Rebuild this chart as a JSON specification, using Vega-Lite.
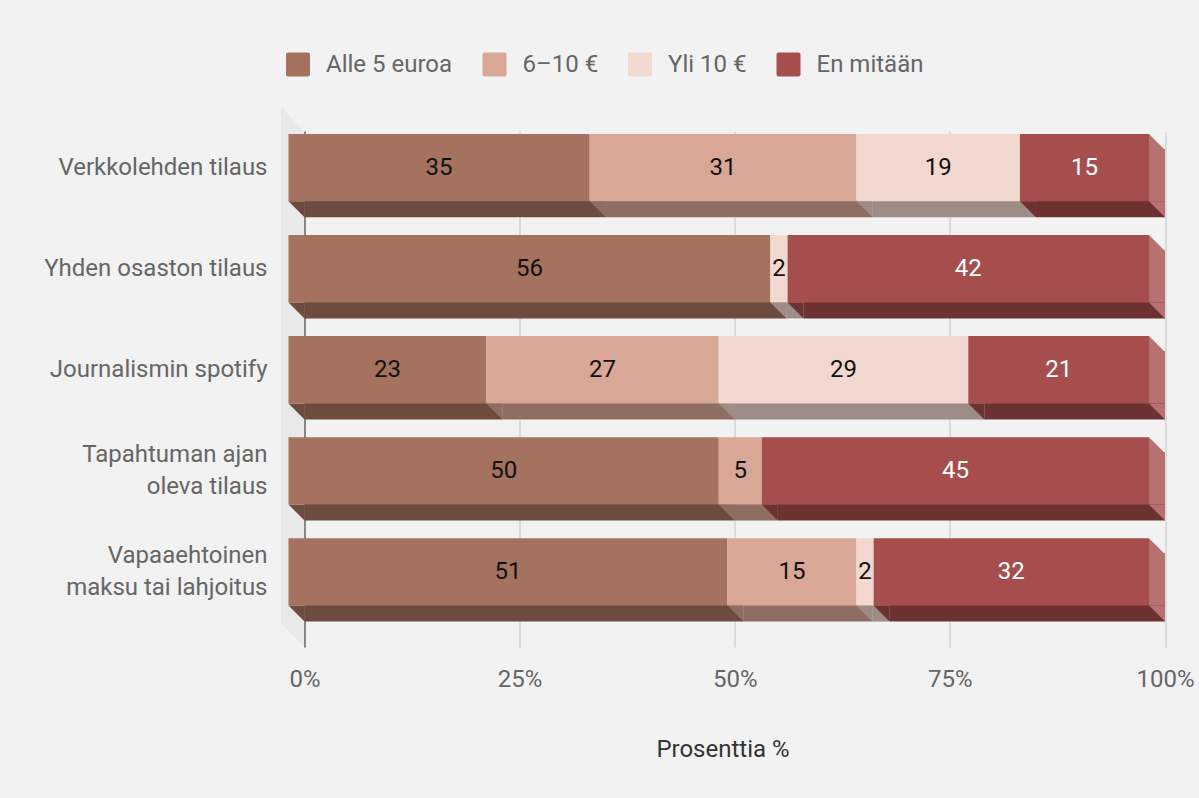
{
  "$schema": "https://vega.github.io/schema/vega-lite/v6.json",
  "background": "#f2f2f2",
  "autosize": {"type": "none"},
  "padding": {"left": 304.5, "top": 131, "right": 34, "bottom": 151},
  "width": 860.5,
  "height": 516,
  "config": {"view": {"stroke": null}, "font": "Roboto"},
  "data": {
    "values": [
      {"category": "Verkkolehden tilaus", "series": "Alle 5 euroa", "order": 1, "value": 35},
      {"category": "Verkkolehden tilaus", "series": "6–10 €", "order": 2, "value": 31},
      {"category": "Verkkolehden tilaus", "series": "Yli 10 €", "order": 3, "value": 19},
      {"category": "Verkkolehden tilaus", "series": "En mitään", "order": 4, "value": 15},
      {"category": "Yhden osaston tilaus", "series": "Alle 5 euroa", "order": 1, "value": 56},
      {"category": "Yhden osaston tilaus", "series": "Yli 10 €", "order": 3, "value": 2},
      {"category": "Yhden osaston tilaus", "series": "En mitään", "order": 4, "value": 42},
      {"category": "Journalismin spotify", "series": "Alle 5 euroa", "order": 1, "value": 23},
      {"category": "Journalismin spotify", "series": "6–10 €", "order": 2, "value": 27},
      {"category": "Journalismin spotify", "series": "Yli 10 €", "order": 3, "value": 29},
      {"category": "Journalismin spotify", "series": "En mitään", "order": 4, "value": 21},
      {"category": "Tapahtuman ajan oleva tilaus", "series": "Alle 5 euroa", "order": 1, "value": 50},
      {"category": "Tapahtuman ajan oleva tilaus", "series": "6–10 €", "order": 2, "value": 5},
      {"category": "Tapahtuman ajan oleva tilaus", "series": "En mitään", "order": 4, "value": 45},
      {"category": "Vapaaehtoinen maksu tai lahjoitus", "series": "Alle 5 euroa", "order": 1, "value": 51},
      {"category": "Vapaaehtoinen maksu tai lahjoitus", "series": "6–10 €", "order": 2, "value": 15},
      {"category": "Vapaaehtoinen maksu tai lahjoitus", "series": "Yli 10 €", "order": 3, "value": 2},
      {"category": "Vapaaehtoinen maksu tai lahjoitus", "series": "En mitään", "order": 4, "value": 32}
    ]
  },
  "transform": [
    {"stack": "value", "groupby": ["category"], "sort": [{"field": "order"}], "as": ["start", "end"]}
  ],
  "layer": [
    {
      "description": "3D side wall of the plot frame",
      "transform": [{"aggregate": [{"op": "count", "as": "n"}]}],
      "mark": {"type": "point", "shape": "M-23.5,-282L-0.6,-258L-0.6,258L-23.5,234Z", "size": 4, "filled": true, "fill": "#e9e9e9", "opacity": 1, "strokeWidth": 0},
      "encoding": {
        "x": {"datum": 0, "type": "quantitative", "scale": {"domain": [0, 100], "nice": false, "zero": true},
          "axis": {"title": "Prosenttia %", "zindex": 0, "values": [0, 25, 50, 75, 100], "labelExpr": "datum.value + '%'", "labelFlush": false, "grid": true, "gridColor": "#c4c4c4", "gridWidth": 1, "domain": false, "ticks": false, "tickSize": 0, "labelPadding": 20.5, "labelFontSize": 24, "labelColor": "#666666", "labelFont": "Roboto", "titleFontSize": 24, "titleFontWeight": "normal", "titleColor": "#333333", "titleFont": "Roboto", "titleX": 418, "titleY": 90.5, "titleBaseline": "top", "titleAlign": "center"}}
      }
    },
    {
      "description": "bottom faces of the 3D bars",
      "mark": {"type": "rule", "strokeWidth": 17, "strokeCap": "butt", "yOffset": 41.18},
      "encoding": {
        "y": {"field": "category", "type": "nominal", "scale": {"domain": ["Verkkolehden tilaus", "Yhden osaston tilaus", "Journalismin spotify", "Tapahtuman ajan oleva tilaus", "Vapaaehtoinen maksu tai lahjoitus"], "paddingInner": 0.3333, "paddingOuter": 0.22, "align": 0.0674},
          "axis": {"title": null, "zindex": 0, "grid": false, "ticks": false, "tickSize": 0, "domain": true, "domainColor": "#333333", "domainWidth": 1, "labelPadding": 37.5, "labelFontSize": 24, "labelColor": "#666666", "labelFont": "Roboto", "labelLimit": 400, "labelLineHeight": 32, "labelOffset": {"condition": {"test": "indexof(['Tapahtuman ajan oleva tilaus', 'Vapaaehtoinen maksu tai lahjoitus'], datum.value) >= 0", "value": -16}, "value": 0}, "labelExpr": "datum.label === 'Tapahtuman ajan oleva tilaus' ? ['Tapahtuman ajan', 'oleva tilaus'] : datum.label === 'Vapaaehtoinen maksu tai lahjoitus' ? ['Vapaaehtoinen', 'maksu tai lahjoitus'] : datum.label"}},
        "x": {"field": "start", "type": "quantitative", "scale": {"domain": [0, 100], "nice": false, "zero": true},
          "axis": {"title": "Prosenttia %", "zindex": 0, "values": [0, 25, 50, 75, 100], "labelExpr": "datum.value + '%'", "labelFlush": false, "grid": true, "gridColor": "#c4c4c4", "gridWidth": 1, "domain": false, "ticks": false, "tickSize": 0, "labelPadding": 20.5, "labelFontSize": 24, "labelColor": "#666666", "labelFont": "Roboto", "titleFontSize": 24, "titleFontWeight": "normal", "titleColor": "#333333", "titleFont": "Roboto", "titleX": 418, "titleY": 90.5, "titleBaseline": "top", "titleAlign": "center"}},
        "x2": {"field": "end"},
        "stroke": {
          "condition": [
            {"test": "datum.series === 'Alle 5 euroa'", "value": "#6d4b3f"},
            {"test": "datum.series === '6–10 €'", "value": "#8e6d62"},
            {"test": "datum.series === 'Yli 10 €'", "value": "#9e8c86"}
          ],
          "value": "#6c3232"
        }
      }
    },
    {
      "description": "slanted left end of each bottom face",
      "mark": {"type": "point", "shape": "M-2,0L0,0L0,2Z", "size": 256, "filled": true, "opacity": 1, "strokeWidth": 0, "yOffset": 33.68},
      "encoding": {
        "y": {"field": "category", "type": "nominal", "scale": {"domain": ["Verkkolehden tilaus", "Yhden osaston tilaus", "Journalismin spotify", "Tapahtuman ajan oleva tilaus", "Vapaaehtoinen maksu tai lahjoitus"], "paddingInner": 0.3333, "paddingOuter": 0.22, "align": 0.0674},
          "axis": {"title": null, "zindex": 0, "grid": false, "ticks": false, "tickSize": 0, "domain": true, "domainColor": "#333333", "domainWidth": 1, "labelPadding": 37.5, "labelFontSize": 24, "labelColor": "#666666", "labelFont": "Roboto", "labelLimit": 400, "labelLineHeight": 32, "labelOffset": {"condition": {"test": "indexof(['Tapahtuman ajan oleva tilaus', 'Vapaaehtoinen maksu tai lahjoitus'], datum.value) >= 0", "value": -16}, "value": 0}, "labelExpr": "datum.label === 'Tapahtuman ajan oleva tilaus' ? ['Tapahtuman ajan', 'oleva tilaus'] : datum.label === 'Vapaaehtoinen maksu tai lahjoitus' ? ['Vapaaehtoinen', 'maksu tai lahjoitus'] : datum.label"}},
        "x": {"field": "start", "type": "quantitative", "scale": {"domain": [0, 100], "nice": false, "zero": true},
          "axis": {"title": "Prosenttia %", "zindex": 0, "values": [0, 25, 50, 75, 100], "labelExpr": "datum.value + '%'", "labelFlush": false, "grid": true, "gridColor": "#c4c4c4", "gridWidth": 1, "domain": false, "ticks": false, "tickSize": 0, "labelPadding": 20.5, "labelFontSize": 24, "labelColor": "#666666", "labelFont": "Roboto", "titleFontSize": 24, "titleFontWeight": "normal", "titleColor": "#333333", "titleFont": "Roboto", "titleX": 418, "titleY": 90.5, "titleBaseline": "top", "titleAlign": "center"}},
        "fill": {
          "condition": [
            {"test": "datum.series === 'Alle 5 euroa'", "value": "#6d4b3f"},
            {"test": "datum.series === '6–10 €'", "value": "#8e6d62"},
            {"test": "datum.series === 'Yli 10 €'", "value": "#9e8c86"}
          ],
          "value": "#6c3232"
        }
      }
    },
    {
      "description": "right side face of the last segment",
      "transform": [{"filter": "datum.series === 'En mitään'"}],
      "mark": {"type": "rule", "strokeWidth": 52.36, "strokeCap": "butt", "color": "#b77171", "xOffset": -16, "yOffset": 7.5},
      "encoding": {
        "y": {"field": "category", "type": "nominal", "scale": {"domain": ["Verkkolehden tilaus", "Yhden osaston tilaus", "Journalismin spotify", "Tapahtuman ajan oleva tilaus", "Vapaaehtoinen maksu tai lahjoitus"], "paddingInner": 0.3333, "paddingOuter": 0.22, "align": 0.0674},
          "axis": {"title": null, "zindex": 0, "grid": false, "ticks": false, "tickSize": 0, "domain": true, "domainColor": "#333333", "domainWidth": 1, "labelPadding": 37.5, "labelFontSize": 24, "labelColor": "#666666", "labelFont": "Roboto", "labelLimit": 400, "labelLineHeight": 32, "labelOffset": {"condition": {"test": "indexof(['Tapahtuman ajan oleva tilaus', 'Vapaaehtoinen maksu tai lahjoitus'], datum.value) >= 0", "value": -16}, "value": 0}, "labelExpr": "datum.label === 'Tapahtuman ajan oleva tilaus' ? ['Tapahtuman ajan', 'oleva tilaus'] : datum.label === 'Vapaaehtoinen maksu tai lahjoitus' ? ['Vapaaehtoinen', 'maksu tai lahjoitus'] : datum.label"}},
        "x": {"field": "end", "type": "quantitative", "scale": {"domain": [0, 100], "nice": false, "zero": true},
          "axis": {"title": "Prosenttia %", "zindex": 0, "values": [0, 25, 50, 75, 100], "labelExpr": "datum.value + '%'", "labelFlush": false, "grid": true, "gridColor": "#c4c4c4", "gridWidth": 1, "domain": false, "ticks": false, "tickSize": 0, "labelPadding": 20.5, "labelFontSize": 24, "labelColor": "#666666", "labelFont": "Roboto", "titleFontSize": 24, "titleFontWeight": "normal", "titleColor": "#333333", "titleFont": "Roboto", "titleX": 418, "titleY": 90.5, "titleBaseline": "top", "titleAlign": "center"}},
        "x2": {"field": "end"}
      }
    },
    {
      "description": "upper slant of the side face",
      "transform": [{"filter": "datum.series === 'En mitään'"}],
      "mark": {"type": "point", "shape": "M0,0L0,2L2,2Z", "size": 256, "filled": true, "fill": "#b77171", "opacity": 1, "strokeWidth": 0, "xOffset": -16, "yOffset": -33.68},
      "encoding": {
        "y": {"field": "category", "type": "nominal", "scale": {"domain": ["Verkkolehden tilaus", "Yhden osaston tilaus", "Journalismin spotify", "Tapahtuman ajan oleva tilaus", "Vapaaehtoinen maksu tai lahjoitus"], "paddingInner": 0.3333, "paddingOuter": 0.22, "align": 0.0674},
          "axis": {"title": null, "zindex": 0, "grid": false, "ticks": false, "tickSize": 0, "domain": true, "domainColor": "#333333", "domainWidth": 1, "labelPadding": 37.5, "labelFontSize": 24, "labelColor": "#666666", "labelFont": "Roboto", "labelLimit": 400, "labelLineHeight": 32, "labelOffset": {"condition": {"test": "indexof(['Tapahtuman ajan oleva tilaus', 'Vapaaehtoinen maksu tai lahjoitus'], datum.value) >= 0", "value": -16}, "value": 0}, "labelExpr": "datum.label === 'Tapahtuman ajan oleva tilaus' ? ['Tapahtuman ajan', 'oleva tilaus'] : datum.label === 'Vapaaehtoinen maksu tai lahjoitus' ? ['Vapaaehtoinen', 'maksu tai lahjoitus'] : datum.label"}},
        "x": {"field": "end", "type": "quantitative", "scale": {"domain": [0, 100], "nice": false, "zero": true},
          "axis": {"title": "Prosenttia %", "zindex": 0, "values": [0, 25, 50, 75, 100], "labelExpr": "datum.value + '%'", "labelFlush": false, "grid": true, "gridColor": "#c4c4c4", "gridWidth": 1, "domain": false, "ticks": false, "tickSize": 0, "labelPadding": 20.5, "labelFontSize": 24, "labelColor": "#666666", "labelFont": "Roboto", "titleFontSize": 24, "titleFontWeight": "normal", "titleColor": "#333333", "titleFont": "Roboto", "titleX": 418, "titleY": 90.5, "titleBaseline": "top", "titleAlign": "center"}}
      }
    },
    {
      "description": "lower slant of the side face",
      "transform": [{"filter": "datum.series === 'En mitään'"}],
      "mark": {"type": "point", "shape": "M-2,0L0,0L0,2Z", "size": 256, "filled": true, "fill": "#b77171", "opacity": 1, "strokeWidth": 0, "yOffset": 33.68},
      "encoding": {
        "y": {"field": "category", "type": "nominal", "scale": {"domain": ["Verkkolehden tilaus", "Yhden osaston tilaus", "Journalismin spotify", "Tapahtuman ajan oleva tilaus", "Vapaaehtoinen maksu tai lahjoitus"], "paddingInner": 0.3333, "paddingOuter": 0.22, "align": 0.0674},
          "axis": {"title": null, "zindex": 0, "grid": false, "ticks": false, "tickSize": 0, "domain": true, "domainColor": "#333333", "domainWidth": 1, "labelPadding": 37.5, "labelFontSize": 24, "labelColor": "#666666", "labelFont": "Roboto", "labelLimit": 400, "labelLineHeight": 32, "labelOffset": {"condition": {"test": "indexof(['Tapahtuman ajan oleva tilaus', 'Vapaaehtoinen maksu tai lahjoitus'], datum.value) >= 0", "value": -16}, "value": 0}, "labelExpr": "datum.label === 'Tapahtuman ajan oleva tilaus' ? ['Tapahtuman ajan', 'oleva tilaus'] : datum.label === 'Vapaaehtoinen maksu tai lahjoitus' ? ['Vapaaehtoinen', 'maksu tai lahjoitus'] : datum.label"}},
        "x": {"field": "end", "type": "quantitative", "scale": {"domain": [0, 100], "nice": false, "zero": true},
          "axis": {"title": "Prosenttia %", "zindex": 0, "values": [0, 25, 50, 75, 100], "labelExpr": "datum.value + '%'", "labelFlush": false, "grid": true, "gridColor": "#c4c4c4", "gridWidth": 1, "domain": false, "ticks": false, "tickSize": 0, "labelPadding": 20.5, "labelFontSize": 24, "labelColor": "#666666", "labelFont": "Roboto", "titleFontSize": 24, "titleFontWeight": "normal", "titleColor": "#333333", "titleFont": "Roboto", "titleX": 418, "titleY": 90.5, "titleBaseline": "top", "titleAlign": "center"}}
      }
    },
    {
      "description": "front faces of the stacked bars",
      "mark": {"type": "bar", "xOffset": -16, "x2Offset": -16},
      "encoding": {
        "y": {"field": "category", "type": "nominal", "scale": {"domain": ["Verkkolehden tilaus", "Yhden osaston tilaus", "Journalismin spotify", "Tapahtuman ajan oleva tilaus", "Vapaaehtoinen maksu tai lahjoitus"], "paddingInner": 0.3333, "paddingOuter": 0.22, "align": 0.0674},
          "axis": {"title": null, "zindex": 0, "grid": false, "ticks": false, "tickSize": 0, "domain": true, "domainColor": "#333333", "domainWidth": 1, "labelPadding": 37.5, "labelFontSize": 24, "labelColor": "#666666", "labelFont": "Roboto", "labelLimit": 400, "labelLineHeight": 32, "labelOffset": {"condition": {"test": "indexof(['Tapahtuman ajan oleva tilaus', 'Vapaaehtoinen maksu tai lahjoitus'], datum.value) >= 0", "value": -16}, "value": 0}, "labelExpr": "datum.label === 'Tapahtuman ajan oleva tilaus' ? ['Tapahtuman ajan', 'oleva tilaus'] : datum.label === 'Vapaaehtoinen maksu tai lahjoitus' ? ['Vapaaehtoinen', 'maksu tai lahjoitus'] : datum.label"}},
        "x": {"field": "start", "type": "quantitative", "scale": {"domain": [0, 100], "nice": false, "zero": true},
          "axis": {"title": "Prosenttia %", "zindex": 0, "values": [0, 25, 50, 75, 100], "labelExpr": "datum.value + '%'", "labelFlush": false, "grid": true, "gridColor": "#c4c4c4", "gridWidth": 1, "domain": false, "ticks": false, "tickSize": 0, "labelPadding": 20.5, "labelFontSize": 24, "labelColor": "#666666", "labelFont": "Roboto", "titleFontSize": 24, "titleFontWeight": "normal", "titleColor": "#333333", "titleFont": "Roboto", "titleX": 418, "titleY": 90.5, "titleBaseline": "top", "titleAlign": "center"}},
        "x2": {"field": "end"},
        "color": {
          "field": "series", "type": "nominal",
          "scale": {"domain": ["Alle 5 euroa", "6–10 €", "Yli 10 €", "En mitään"], "range": ["#a4725f", "#d8a796", "#f3d8cf", "#a64e4e"]},
          "legend": {
            "title": null, "orient": "none", "direction": "horizontal",
            "legendX": -18.5, "legendY": -78.5, "padding": 0, "offset": 0,
            "symbolType": "M-0.83,-1L0.83,-1Q1,-1,1,-0.83L1,0.83Q1,1,0.83,1L-0.83,1Q-1,1,-1,0.83L-1,-0.83Q-1,-1,-0.83,-1Z",
            "symbolSize": 576, "symbolStrokeWidth": 0, "symbolOpacity": 1,
            "labelFontSize": 24, "labelColor": "#666666", "labelFont": "Roboto",
            "labelOffset": 16, "columnPadding": 29.5, "labelLimit": 300
          }
        }
      }
    },
    {
      "description": "value labels centred on each front face",
      "mark": {"type": "text", "xOffset": -16, "fontSize": 24, "font": "Roboto"},
      "encoding": {
        "y": {"field": "category", "type": "nominal", "scale": {"domain": ["Verkkolehden tilaus", "Yhden osaston tilaus", "Journalismin spotify", "Tapahtuman ajan oleva tilaus", "Vapaaehtoinen maksu tai lahjoitus"], "paddingInner": 0.3333, "paddingOuter": 0.22, "align": 0.0674},
          "axis": {"title": null, "zindex": 0, "grid": false, "ticks": false, "tickSize": 0, "domain": true, "domainColor": "#333333", "domainWidth": 1, "labelPadding": 37.5, "labelFontSize": 24, "labelColor": "#666666", "labelFont": "Roboto", "labelLimit": 400, "labelLineHeight": 32, "labelOffset": {"condition": {"test": "indexof(['Tapahtuman ajan oleva tilaus', 'Vapaaehtoinen maksu tai lahjoitus'], datum.value) >= 0", "value": -16}, "value": 0}, "labelExpr": "datum.label === 'Tapahtuman ajan oleva tilaus' ? ['Tapahtuman ajan', 'oleva tilaus'] : datum.label === 'Vapaaehtoinen maksu tai lahjoitus' ? ['Vapaaehtoinen', 'maksu tai lahjoitus'] : datum.label"}},
        "x": {"field": "value", "type": "quantitative", "stack": "zero", "bandPosition": 0.5, "scale": {"domain": [0, 100], "nice": false, "zero": true},
          "axis": {"title": "Prosenttia %", "zindex": 0, "values": [0, 25, 50, 75, 100], "labelExpr": "datum.value + '%'", "labelFlush": false, "grid": true, "gridColor": "#c4c4c4", "gridWidth": 1, "domain": false, "ticks": false, "tickSize": 0, "labelPadding": 20.5, "labelFontSize": 24, "labelColor": "#666666", "labelFont": "Roboto", "titleFontSize": 24, "titleFontWeight": "normal", "titleColor": "#333333", "titleFont": "Roboto", "titleX": 418, "titleY": 90.5, "titleBaseline": "top", "titleAlign": "center"}},
        "order": {"field": "order"},
        "text": {"field": "value", "type": "quantitative"},
        "color": {"condition": {"test": "datum.series === 'En mitään'", "value": "#ffffff"}, "value": "#111111"}
      }
    }
  ]
}
